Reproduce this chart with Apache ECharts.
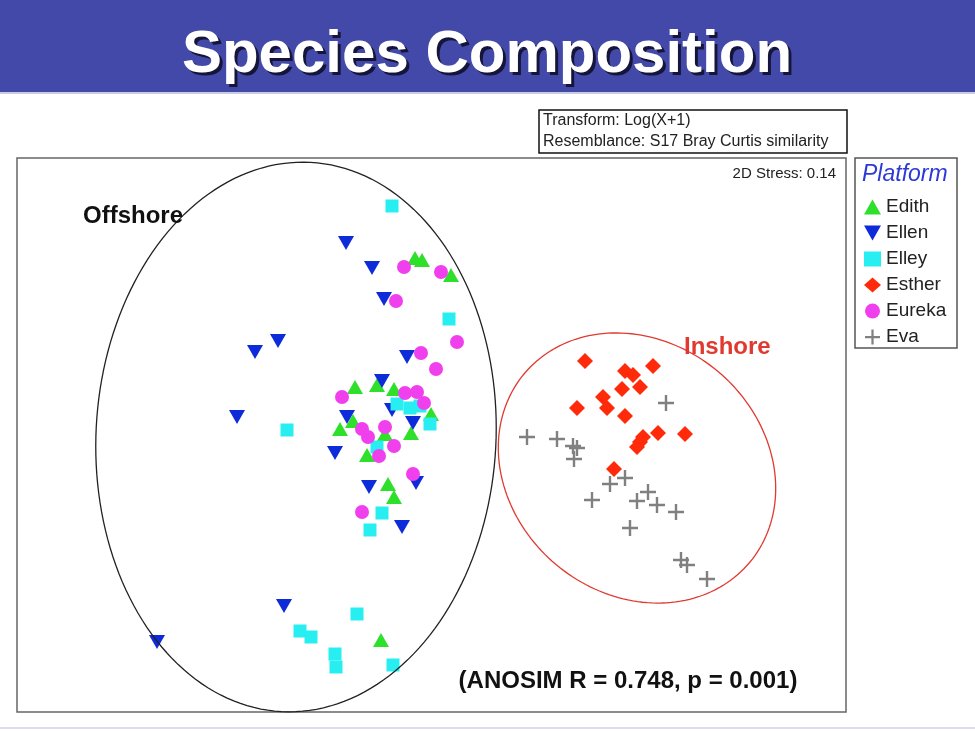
<!DOCTYPE html>
<html><head><meta charset="utf-8">
<script src="https://cdn.jsdelivr.net/npm/echarts/dist/echarts.min.js"></script>
<style>html,body{margin:0;padding:0;background:#fff}#c{width:975px;height:731px}</style>
</head><body><div id="c"></div>
<script>
// NMDS ordination coordinates (plot units)
const platforms = ['Edith', 'Ellen', 'Elley', 'Esther', 'Eureka', 'Eva'];
const edith = [[415,258],[422,260],[451,275],[355,387],[377,385],[394,389],[353,421],[340,429],[385,434],[411,433],[431,414],[367,455],[388,484],[394,497],[381,640]];
const ellen = [[346,243],[372,268],[384,299],[255,352],[278,341],[237,417],[407,357],[382,381],[347,417],[413,423],[392,410],[335,453],[369,487],[416,483],[402,527],[284,606],[157,642]];
const elley = [[392,206],[449,319],[287,430],[397,404],[410,408],[420,406],[430,424],[377,447],[382,513],[370,530],[357,614],[300,631],[311,637],[335,654],[336,667],[393,665]];
const esther = [[585,361],[625,371],[633,375],[653,366],[622,389],[640,387],[603,397],[607,408],[577,408],[625,416],[643,437],[640,442],[637,447],[658,433],[685,434],[614,469]];
const eureka = [[404,267],[441,272],[396,301],[457,342],[421,353],[436,369],[342,397],[405,393],[417,392],[424,403],[362,429],[368,437],[385,427],[394,446],[379,456],[413,474],[362,512]];
const eva = [[666,403],[527,437],[557,439],[573,446],[577,448],[574,459],[625,478],[610,484],[592,500],[648,492],[637,501],[657,505],[676,512],[630,528],[681,560],[687,565],[707,579]];
// group hulls: [centreX, centreY, radiusX, radiusY, rotationDeg]
const offshoreHull = [[296,437,200,275,3]];
const inshoreHull = [[637,468,147,126,40]];

const FONT = '"Liberation Sans", Arial, Helvetica, sans-serif';
const crossPath = 'path://M6.8,0h2.4v6.8h6.8v2.4h-6.8v6.8h-2.4v-6.8h-6.8v-2.4h6.8z';
const downTriPath = 'path://M0,0L16,0L8,14Z';

function hullRender(color) {
  return function (params, api) {
    const c = api.coord([api.value(0), api.value(1)]);
    const s = api.size([api.value(2), api.value(3)]);
    const phi = api.value(4) * Math.PI / 180;
    const pts = [];
    for (let i = 0; i <= 180; i++) {
      const t = i / 180 * Math.PI * 2;
      const ex = s[0] * Math.cos(t), ey = s[1] * Math.sin(t);
      pts.push([c[0] + ex * Math.cos(phi) - ey * Math.sin(phi), c[1] + ex * Math.sin(phi) + ey * Math.cos(phi)]);
    }
    return { type: 'polyline', shape: { points: pts }, style: { fill: 'none', stroke: color, lineWidth: 1.3 } };
  };
}

function scatter(name, data, symbol, size, color, rotate) {
  return {
    type: 'scatter', name: name, data: data, symbol: symbol, symbolSize: size,
    symbolRotate: rotate || 0, itemStyle: { color: color, opacity: 1 }, silent: true,
    emphasis: { disabled: true }
  };
}

const chart = echarts.init(document.getElementById('c'), null, { renderer: 'canvas' });
chart.setOption({
  animation: false,
  backgroundColor: '#fff',
  grid: { left: 17, top: 158, width: 829, height: 554, show: true, borderColor: '#666', borderWidth: 1.5, backgroundColor: 'transparent' },
  xAxis: { type: 'value', min: 17, max: 846, show: false, splitLine: { show: false } },
  yAxis: { type: 'value', min: 158, max: 712, inverse: true, show: false, splitLine: { show: false } },
  legend: {
    data: platforms.map(function (p) { return p === 'Ellen' ? { name: p, icon: downTriPath } : { name: p }; }),
    orient: 'vertical', left: 859, top: 192,
    itemWidth: 17, itemHeight: 15, itemGap: 6,
    textStyle: { fontSize: 19, fontFamily: FONT, color: '#222', lineHeight: 20 },
    selectedMode: false
  },
  series: [
    { type: 'custom', name: 'offshore', data: offshoreHull, renderItem: hullRender('#222'), silent: true, z: 5, clip: false, encode: { x: 0, y: 1 } },
    { type: 'custom', name: 'inshore', data: inshoreHull, renderItem: hullRender('#e03a30'), silent: true, z: 5, clip: false, encode: { x: 0, y: 1 } },
    scatter('Edith', edith, 'triangle', [16, 14], '#2ee02a'),
    scatter('Ellen', ellen, 'triangle', [16, 14], '#0d2bd9', 180),
    scatter('Elley', elley, 'rect', [13, 13], '#27eef0'),
    scatter('Esther', esther, 'diamond', [16, 16], '#ff2a0a'),
    scatter('Eureka', eureka, 'circle', 14, '#f040ee'),
    scatter('Eva', eva, crossPath, [16, 16], '#808080')
  ],
  graphic: [
    { type: 'rect', z: 0, shape: { x: 0, y: 0, width: 975, height: 92 }, style: { fill: '#4349a8' } },
    { type: 'rect', z: 0, shape: { x: 0, y: 92, width: 975, height: 2 }, style: { fill: '#c9cbe6' } },
    { type: 'rect', z: 0, shape: { x: 0, y: 727, width: 975, height: 2 }, style: { fill: '#dcdcef' } },
    { type: 'text', z: 10, style: { text: 'Species Composition', x: 490, y: 58, align: 'center', verticalAlign: 'middle', fill: '#15153a', font: 'bold 60px ' + FONT } },
    { type: 'text', z: 11, style: { text: 'Species Composition', x: 487, y: 55, align: 'center', verticalAlign: 'middle', fill: '#ffffff', font: 'bold 60px ' + FONT } },
    { type: 'rect', z: 10, shape: { x: 539, y: 110, width: 308, height: 43 }, style: { fill: '#fff', stroke: '#111', lineWidth: 1.5 } },
    { type: 'text', z: 11, style: { text: 'Transform: Log(X+1)', x: 543, y: 121, verticalAlign: 'middle', fill: '#222', font: '16px ' + FONT } },
    { type: 'text', z: 11, style: { text: 'Resemblance: S17 Bray Curtis similarity', x: 543, y: 142, verticalAlign: 'middle', fill: '#222', font: '16px ' + FONT } },
    { type: 'text', z: 11, style: { text: '2D Stress: 0.14', x: 836, y: 174, align: 'right', verticalAlign: 'middle', fill: '#222', font: '15px ' + FONT } },
    { type: 'rect', z: 10, shape: { x: 855, y: 158, width: 102, height: 190 }, style: { fill: 'none', stroke: '#555', lineWidth: 1.5 } },
    { type: 'text', z: 11, style: { text: 'Platform', x: 862, y: 175, verticalAlign: 'middle', fill: '#2b3ad6', font: 'italic 23px ' + FONT } },
    { type: 'text', z: 11, style: { text: 'Offshore', x: 83, y: 216, verticalAlign: 'middle', fill: '#111', font: 'bold 24px ' + FONT } },
    { type: 'text', z: 11, style: { text: 'Inshore', x: 684, y: 347, verticalAlign: 'middle', fill: '#e03a30', font: 'bold 24px ' + FONT } },
    { type: 'text', z: 11, style: { text: '(ANOSIM R = 0.748, p = 0.001)', x: 628, y: 681, align: 'center', verticalAlign: 'middle', fill: '#111', font: 'bold 24px ' + FONT } }
  ]
});
</script>
</body></html>
